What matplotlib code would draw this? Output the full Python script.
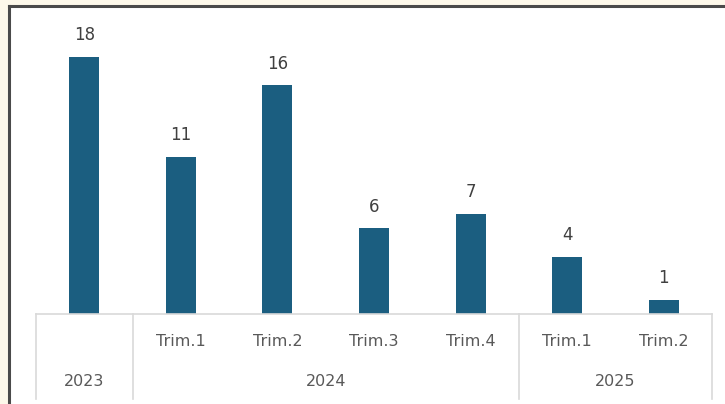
import matplotlib.pyplot as plt
from matplotlib.patches import Rectangle

# data
quarters = ["", "Trim.1", "Trim.2", "Trim.3", "Trim.4", "Trim.1", "Trim.2"]
years = ["2023", "2024", "2025"]
year_sizes = [1, 4, 2]
values = [18, 11, 16, 6, 7, 4, 1]

bar_color = "#1b5e80"
text_color = "#595959"
line_color = "#d9d9d9"

fig = plt.figure(figsize=(7.25, 4.04), dpi=100)
fig.patch.set_facecolor("#fdf8ea")

# white chart area with dark left/top border
W, H = 725, 404
fig.patches.append(Rectangle((9 / W, 0), 1 - 9 / W, 1 - 6 / H, transform=fig.transFigure,
                             facecolor="white", edgecolor="none", zorder=-10))
fig.lines.append(plt.Line2D([9 / W, 9 / W], [0, 1 - 6 / H], transform=fig.transFigure,
                            color="#4a4a4a", lw=2.2, zorder=-9))
fig.lines.append(plt.Line2D([9 / W, 1], [1 - 6 / H, 1 - 6 / H], transform=fig.transFigure,
                            color="#4a4a4a", lw=2.2, zorder=-9))

ax_top, ax_bot = 28, 314
ax = fig.add_axes([36 / W, (H - ax_bot) / H, 676 / W, (ax_bot - ax_top) / H])
ax.set_facecolor("none")

x = list(range(len(values)))
bars = ax.bar(x, values, width=0.31, color=bar_color, zorder=2)
for xi, v in zip(x, values):
    ax.annotate(str(v), (xi, v), xytext=(0, 9), textcoords="offset points",
                ha="center", va="bottom", fontsize=12, color="#404040")

ax.set_xlim(-0.5, len(values) - 0.5)
ax.set_ylim(0, 20)
for s in ax.spines.values():
    s.set_visible(False)
ax.set_xticks([])
ax.set_yticks([])

# multi-level category axis
ph = ax_bot - ax_top
def yfrac(py):
    return (ax_bot - py) / ph

tr = ax.get_xaxis_transform()
ax.plot([-0.5, len(values) - 0.5], [0, 0], transform=tr, color=line_color, lw=1.2, clip_on=False)

bounds = [-0.5]
for n in year_sizes:
    bounds.append(bounds[-1] + n)
for b in bounds:
    ax.plot([b, b], [0, yfrac(399)], transform=tr, color=line_color, lw=1.2, clip_on=False)

for xi, q in zip(x, quarters):
    if q:
        ax.text(xi, yfrac(342), q, transform=tr, ha="center", va="center",
                fontsize=11.5, color=text_color)

for i, yr in enumerate(years):
    cx = (bounds[i] + bounds[i + 1]) / 2
    ax.text(cx, yfrac(381), yr, transform=tr, ha="center", va="center",
            fontsize=11.5, color=text_color)

fig.savefig("out.png", dpi=100, facecolor=fig.get_facecolor())
